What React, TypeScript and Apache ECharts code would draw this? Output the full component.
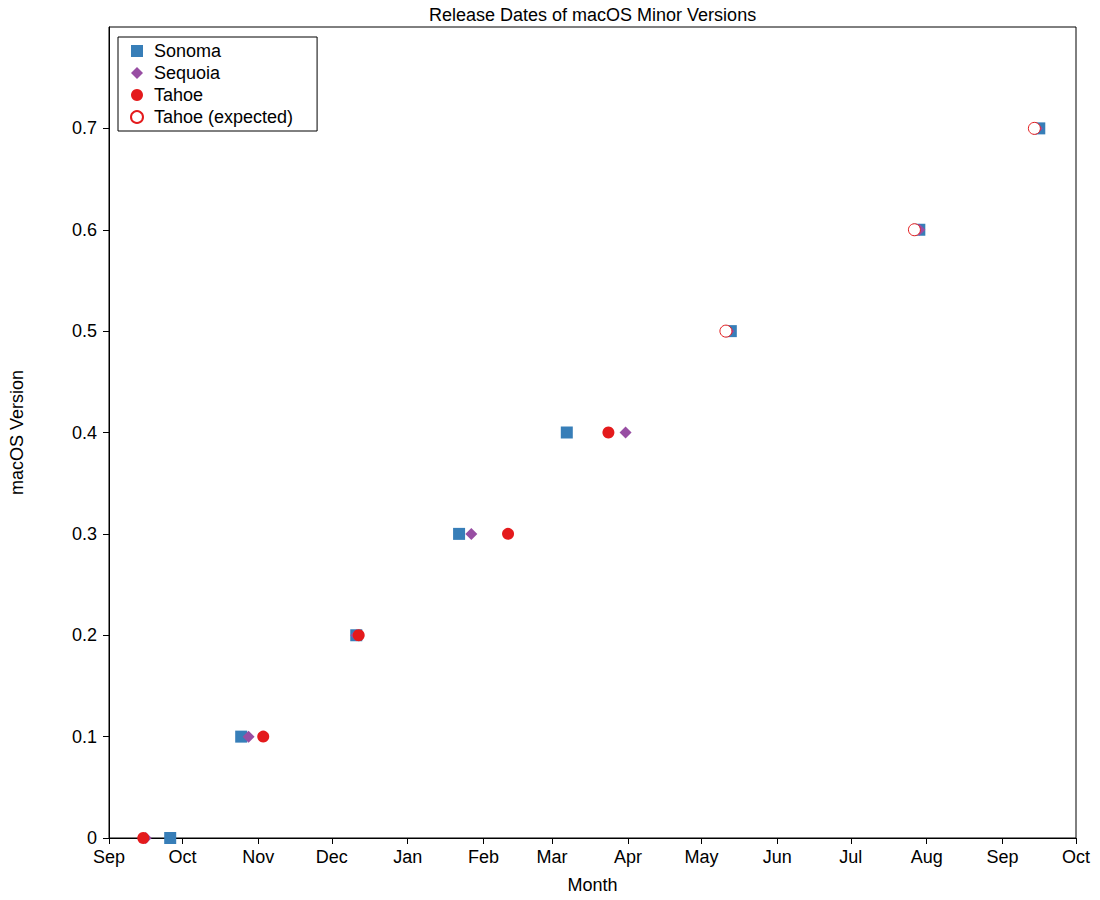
import React, { useEffect, useRef } from "react";
import * as echarts from "echarts";

// Release dates (real dates) and their minor version numbers
const sonomaDates = ["2023-09-26", "2023-10-25", "2023-12-11", "2024-01-22", "2024-03-07", "2024-05-13", "2024-07-29", "2024-09-16"];
const sonomaVersions = [0.0, 0.1, 0.2, 0.3, 0.4, 0.5, 0.6, 0.7];
const sonomaMajorYear = 2023;

const sequoiaDates = ["2024-09-16", "2024-10-28", "2024-12-11", "2025-01-27", "2025-03-31", "2025-05-12", "2025-07-29", "2025-09-15"];
const sequoiaVersions = [0.0, 0.1, 0.2, 0.3, 0.4, 0.5, 0.6, 0.7];
const sequoiaMajorYear = 2024;

const tahoeDates = ["2025-09-15", "2025-11-03", "2025-12-12", "2026-02-11", "2026-03-24"];
const tahoeVersions = [0.0, 0.1, 0.2, 0.3, 0.4];
const tahoeMajorYear = 2025;

const tahoeExpectedDates = ["2026-05-11", "2026-07-27", "2026-09-14"];
const tahoeExpectedVersions = [0.5, 0.6, 0.7];

const monthLabels = ["Sep", "Oct", "Nov", "Dec", "Jan", "Feb", "Mar", "Apr", "May", "Jun", "Jul", "Aug", "Sep", "Oct"];
const yTicks = [0, 0.1, 0.2, 0.3, 0.4, 0.5, 0.6, 0.7];

// Common (non-leap) display cycle: Sep 1 of BASE to Oct 1 of BASE+1
const BASE = 2024;
const FONT = "Liberation Sans, Arial, Helvetica, sans-serif";

function toCycle(dateStr: string, majorYear: number): number {
  const [y, m, d] = dateStr.split("-").map(Number);
  return Date.UTC(BASE + (y - majorYear), m - 1, d);
}

function monthTicks(): number[] {
  return monthLabels.map((_, i) => Date.UTC(BASE, 8 + i, 1));
}

function pairs(dates: string[], vals: number[], major: number) {
  return dates.map((d, i) => [toCycle(d, major), vals[i]]);
}

export default function App() {
  const ref = useRef<HTMLDivElement>(null);
  useEffect(() => {
    if (!ref.current) return;
    const chart = echarts.init(ref.current, undefined, { renderer: "svg" });
    const ticks = monthTicks();
    const textStyle = { fontFamily: FONT, fontSize: 18, color: "#000" };
    chart.setOption({
      animation: false,
      textStyle: { fontFamily: FONT },
      title: {
        text: "Release Dates of macOS Minor Versions",
        left: 424,
        top: 1,
        textStyle: { fontFamily: FONT, fontSize: 18, fontWeight: "normal", color: "#000" },
      },
      legend: {
        orient: "vertical",
        left: 118,
        top: 37,
        padding: [5, 24, 5, 12],
        itemGap: 4,
        itemWidth: 12,
        itemHeight: 12,
        borderColor: "#000",
        borderWidth: 1,
        textStyle: { ...textStyle, padding: [0, 0, 0, 6], lineHeight: 18 },
        data: [
          { name: "Sonoma", icon: "rect" },
          { name: "Sequoia", icon: "diamond" },
          { name: "Tahoe", icon: "circle" },
          { name: "Tahoe (expected)", icon: "circle" },
        ],
      },
      grid: {
        left: 108,
        right: 24,
        top: 27,
        bottom: 62,
        show: true,
        borderColor: "#000",
        borderWidth: 1,
        backgroundColor: "transparent",
      },
      xAxis: {
        type: "value",
        min: ticks[0],
        max: ticks[ticks.length - 1],
        name: "Month",
        nameLocation: "middle",
        nameGap: 38,
        nameTextStyle: textStyle,
        axisLine: { show: true, lineStyle: { color: "#000", width: 1 } },
        axisTick: { show: true, inside: false, length: 6, customValues: ticks, lineStyle: { color: "#000" } },
        axisLabel: {
          ...textStyle,
          margin: 10,
          customValues: ticks,
          formatter: (v: number) => {
            const idx = ticks.indexOf(v);
            return idx >= 0 ? monthLabels[idx] : "";
          },
        },
        splitLine: { show: false },
      },
      yAxis: {
        type: "value",
        min: 0,
        max: 0.8,
        name: "macOS Version",
        nameLocation: "middle",
        nameGap: 83,
        nameTextStyle: textStyle,
        axisLine: { show: true, lineStyle: { color: "#000", width: 1 } },
        axisTick: { show: true, inside: false, length: 6, customValues: yTicks, lineStyle: { color: "#000" } },
        axisLabel: {
          ...textStyle,
          margin: 12,
          customValues: yTicks,
          formatter: (v: number) => (v === 0 ? "0" : v.toFixed(1)),
        },
        splitLine: { show: false },
      },
      series: [
        {
          name: "Sonoma",
          type: "scatter",
          symbol: "rect",
          symbolSize: 12,
          itemStyle: { color: "#377eb8", opacity: 1 },
          data: pairs(sonomaDates, sonomaVersions, sonomaMajorYear),
          z: 2,
        },
        {
          name: "Sequoia",
          type: "scatter",
          symbol: "diamond",
          symbolSize: 12,
          itemStyle: { color: "#984ea3", opacity: 1 },
          data: pairs(sequoiaDates, sequoiaVersions, sequoiaMajorYear),
          z: 3,
        },
        {
          name: "Tahoe",
          type: "scatter",
          symbol: "circle",
          symbolSize: 12,
          itemStyle: { color: "#e41a1c", opacity: 1 },
          data: pairs(tahoeDates, tahoeVersions, tahoeMajorYear),
          z: 4,
        },
        {
          name: "Tahoe (expected)",
          type: "scatter",
          symbol: "circle",
          symbolSize: 12,
          itemStyle: { color: "#ffffff", borderColor: "#e41a1c", borderWidth: 1, opacity: 1 },
          data: pairs(tahoeExpectedDates, tahoeExpectedVersions, tahoeMajorYear),
          z: 5,
        },
      ],
    });
    return () => chart.dispose();
  }, []);
  return <div ref={ref} style={{ width: 1100, height: 900, position: "absolute", left: 0, top: 0 }} />;
}
